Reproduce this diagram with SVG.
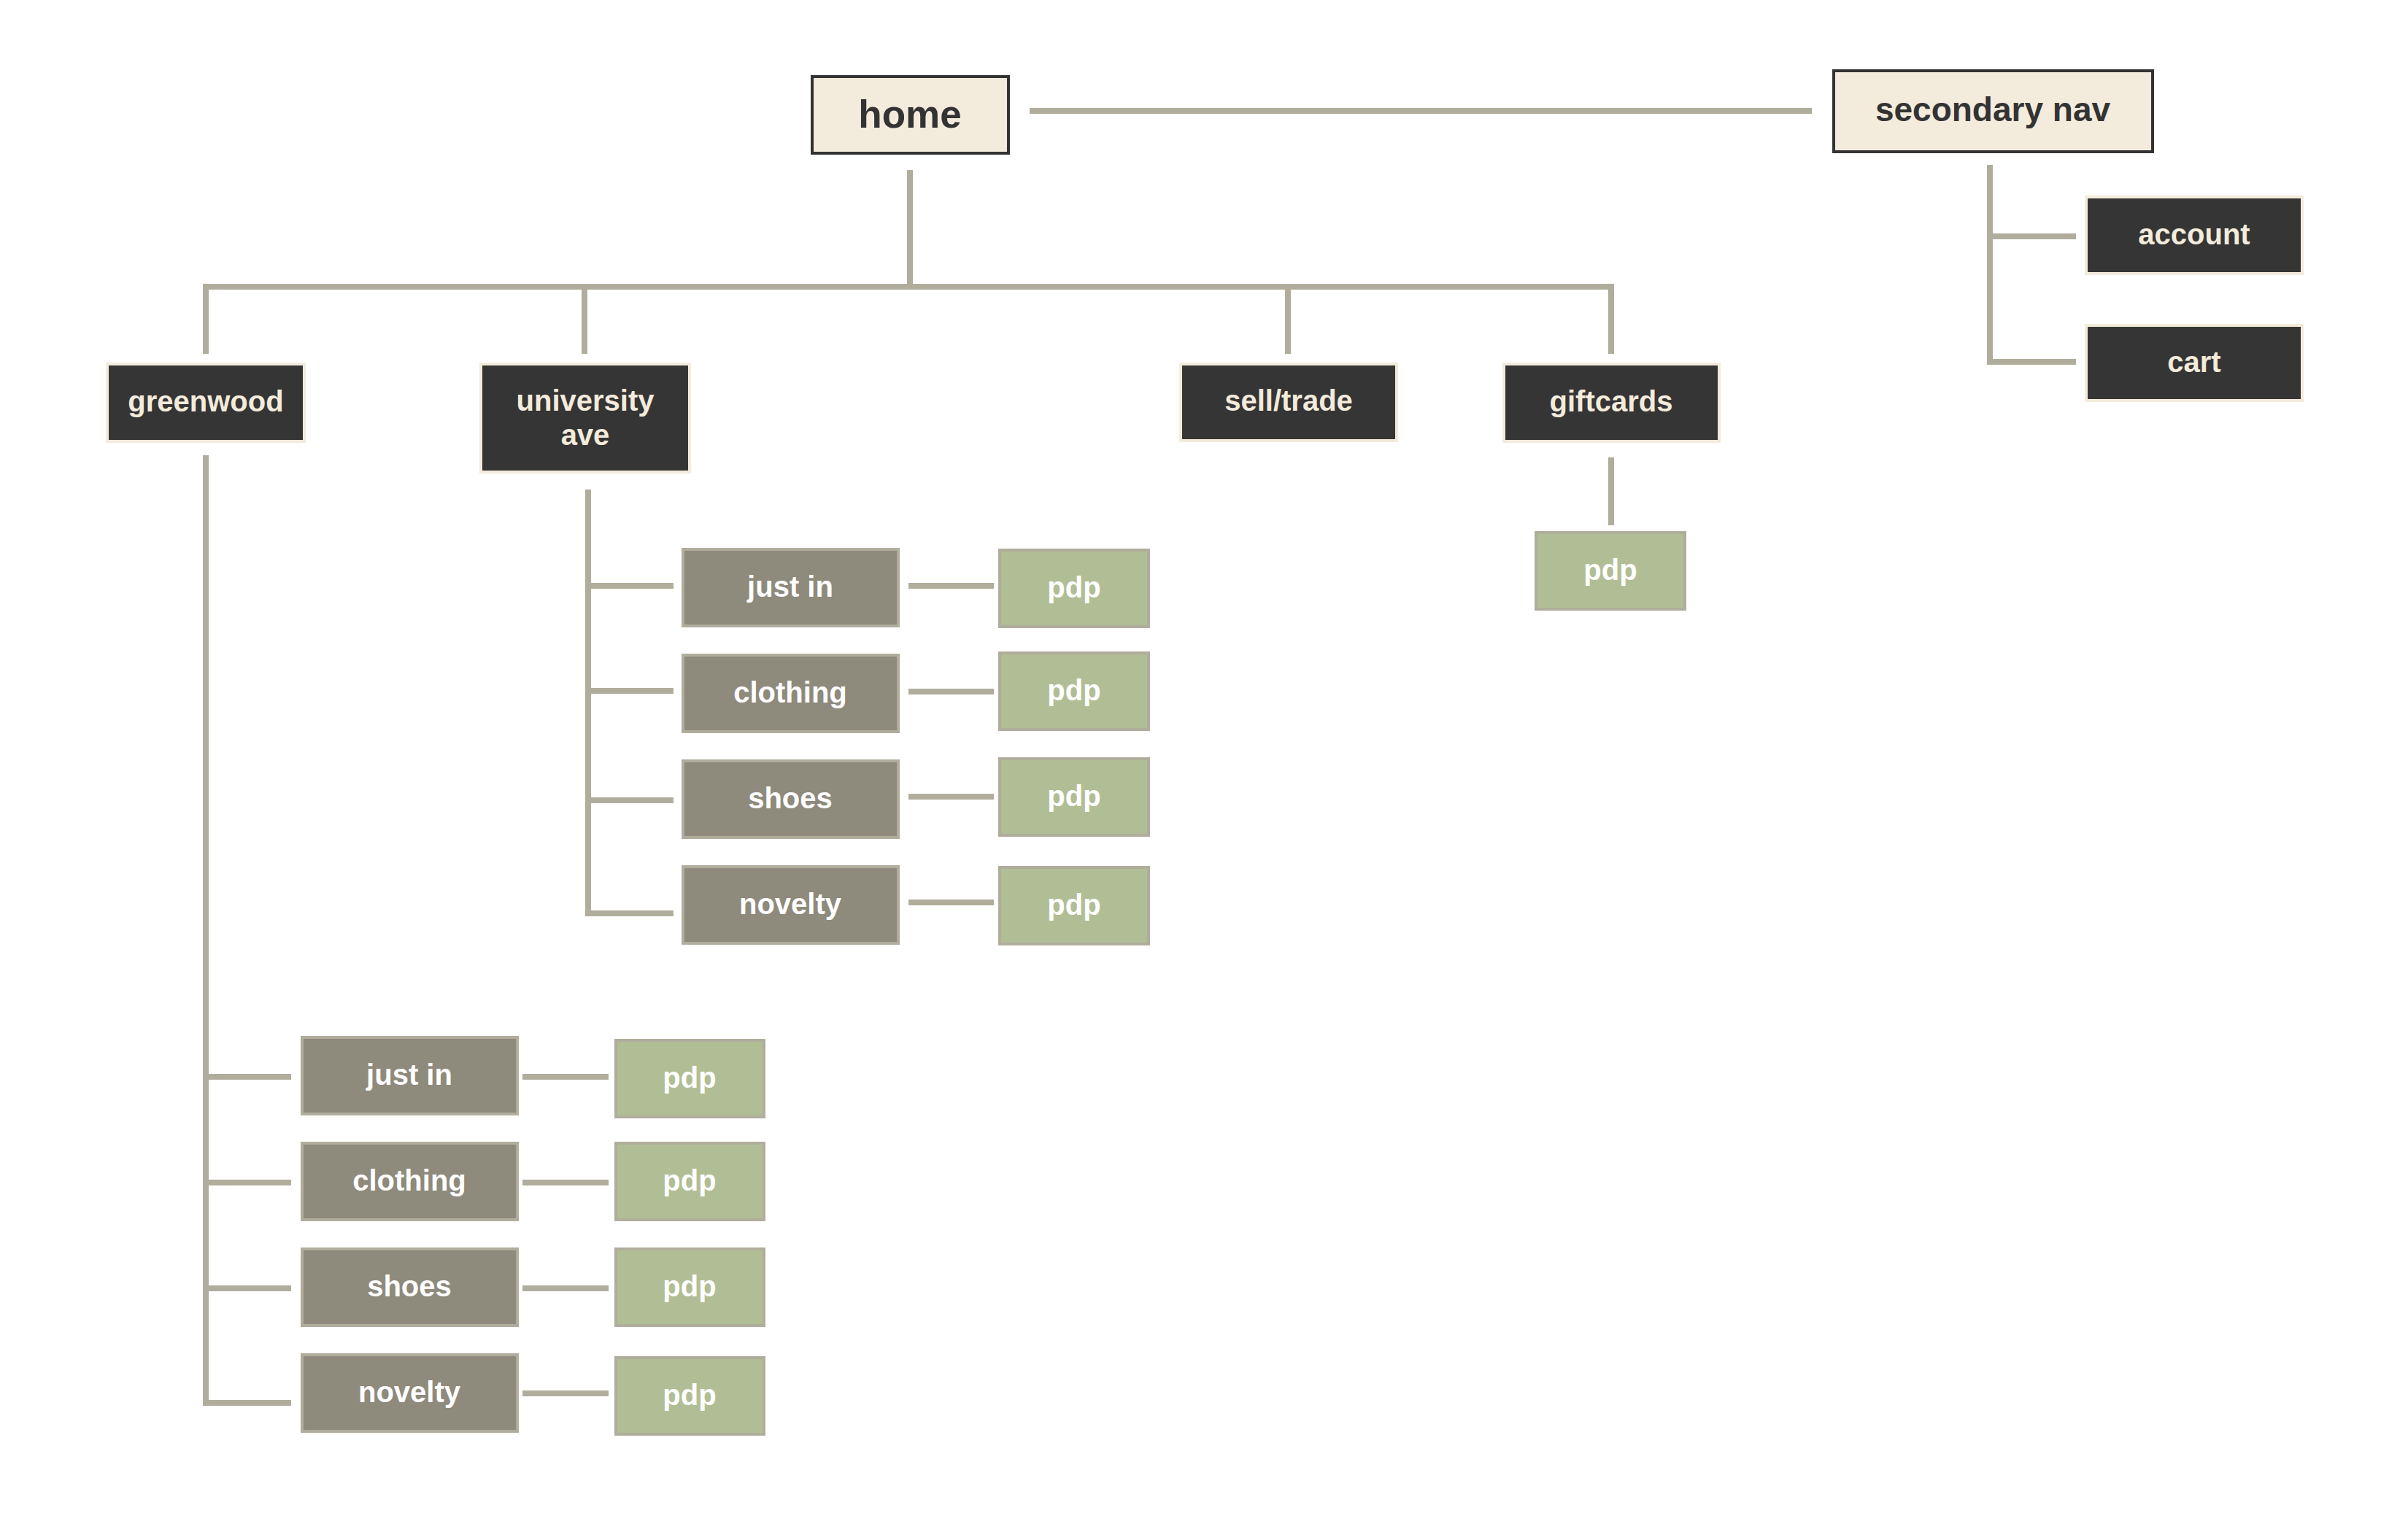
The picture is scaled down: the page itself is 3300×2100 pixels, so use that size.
<svg xmlns="http://www.w3.org/2000/svg" width="3300" height="2100" viewBox="0 0 3300 2100">
<style>
.ln{fill:none;stroke:#b0ad9c;stroke-width:8;stroke-linecap:butt;stroke-linejoin:miter}
.top{fill:#f3ebdc;stroke:#333333;stroke-width:4}
.dark{fill:#353535;stroke:#f3ebdc;stroke-width:4}
.gray{fill:#8e8a7c;stroke:#b0ad9c;stroke-width:4}
.pdp{fill:#b1be95;stroke:#b0ad9c;stroke-width:4}
text{font-family:"Liberation Sans",Arial,sans-serif;font-weight:bold;text-anchor:middle}
.tt{fill:#333333}
.td{fill:#f3ebdc;font-size:40px}
.tw{fill:#ffffff;font-size:40px}
</style>
<rect width="3300" height="2100" fill="#ffffff"/>
<g id="connectors">
<path class="ln" d="M1411 152 H2483"/>
<path class="ln" d="M1247 233 V393"/>
<path class="ln" d="M282 485 V393 H2208 V485"/>
<path class="ln" d="M801 393 V485"/>
<path class="ln" d="M1765 393 V485"/>
<path class="ln" d="M2727 226 V496 H2845"/>
<path class="ln" d="M2727 324 H2845"/>
<path class="ln" d="M2208 627 V720"/>
<path class="ln" d="M806 671 V1252 H923"/>
<path class="ln" d="M806 803 H923"/>
<path class="ln" d="M806 947 H923"/>
<path class="ln" d="M806 1097 H923"/>
<path class="ln" d="M1245 803 H1362"/>
<path class="ln" d="M1245 948 H1362"/>
<path class="ln" d="M1245 1092 H1362"/>
<path class="ln" d="M1245 1237 H1362"/>
<path class="ln" d="M282 624 V1923 H399"/>
<path class="ln" d="M282 1476 H399"/>
<path class="ln" d="M282 1621 H399"/>
<path class="ln" d="M282 1766 H399"/>
<path class="ln" d="M716 1476 H834"/>
<path class="ln" d="M716 1621 H834"/>
<path class="ln" d="M716 1766 H834"/>
<path class="ln" d="M716 1910 H834"/>
</g>
<g id="home"><rect class="top" x="1113" y="105" width="269" height="105"/><text class="tt" x="1247" y="175" font-size="53">home</text></g>
<g id="secondary-nav"><rect class="top" x="2513" y="97" width="437" height="111"/><text class="tt" x="2731" y="166" font-size="46">secondary nav</text></g>
<g id="account"><rect class="dark" x="2859" y="270" width="296" height="105"/><text class="td" x="3007" y="335">account</text></g>
<g id="cart"><rect class="dark" x="2859" y="446" width="296" height="103"/><text class="td" x="3007" y="510">cart</text></g>
<g id="greenwood"><rect class="dark" x="147" y="499" width="270" height="106"/><text class="td" x="282" y="564">greenwood</text></g>
<g id="university-ave"><rect class="dark" x="659" y="499" width="286" height="148"/><text class="td" x="802" y="563">university</text><text class="td" x="802" y="610">ave</text></g>
<g id="sell-trade"><rect class="dark" x="1618" y="499" width="296" height="105"/><text class="td" x="1766" y="563">sell/trade</text></g>
<g id="giftcards"><rect class="dark" x="2061" y="499" width="295" height="106"/><text class="td" x="2208" y="564">giftcards</text></g>
<g id="giftcards-pdp"><rect class="pdp" x="2105" y="730" width="204" height="105"/><text class="tw" x="2207" y="795">pdp</text></g>
<g id="ua-just-in"><rect class="gray" x="936" y="753" width="295" height="105"/><text class="tw" x="1083" y="818">just in</text></g>
<g id="ua-clothing"><rect class="gray" x="936" y="898" width="295" height="105"/><text class="tw" x="1083" y="963">clothing</text></g>
<g id="ua-shoes"><rect class="gray" x="936" y="1043" width="295" height="105"/><text class="tw" x="1083" y="1108">shoes</text></g>
<g id="ua-novelty"><rect class="gray" x="936" y="1188" width="295" height="105"/><text class="tw" x="1083" y="1253">novelty</text></g>
<g id="ua-pdp-1"><rect class="pdp" x="1370" y="754" width="204" height="105"/><text class="tw" x="1472" y="819">pdp</text></g>
<g id="ua-pdp-2"><rect class="pdp" x="1370" y="895" width="204" height="105"/><text class="tw" x="1472" y="960">pdp</text></g>
<g id="ua-pdp-3"><rect class="pdp" x="1370" y="1040" width="204" height="105"/><text class="tw" x="1472" y="1105">pdp</text></g>
<g id="ua-pdp-4"><rect class="pdp" x="1370" y="1189" width="204" height="105"/><text class="tw" x="1472" y="1254">pdp</text></g>
<g id="gw-just-in"><rect class="gray" x="414" y="1422" width="295" height="105"/><text class="tw" x="561" y="1487">just in</text></g>
<g id="gw-clothing"><rect class="gray" x="414" y="1567" width="295" height="105"/><text class="tw" x="561" y="1632">clothing</text></g>
<g id="gw-shoes"><rect class="gray" x="414" y="1712" width="295" height="105"/><text class="tw" x="561" y="1777">shoes</text></g>
<g id="gw-novelty"><rect class="gray" x="414" y="1857" width="295" height="105"/><text class="tw" x="561" y="1922">novelty</text></g>
<g id="gw-pdp-1"><rect class="pdp" x="844" y="1426" width="203" height="105"/><text class="tw" x="945" y="1491">pdp</text></g>
<g id="gw-pdp-2"><rect class="pdp" x="844" y="1567" width="203" height="105"/><text class="tw" x="945" y="1632">pdp</text></g>
<g id="gw-pdp-3"><rect class="pdp" x="844" y="1712" width="203" height="105"/><text class="tw" x="945" y="1777">pdp</text></g>
<g id="gw-pdp-4"><rect class="pdp" x="844" y="1861" width="203" height="105"/><text class="tw" x="945" y="1926">pdp</text></g>
</svg>
